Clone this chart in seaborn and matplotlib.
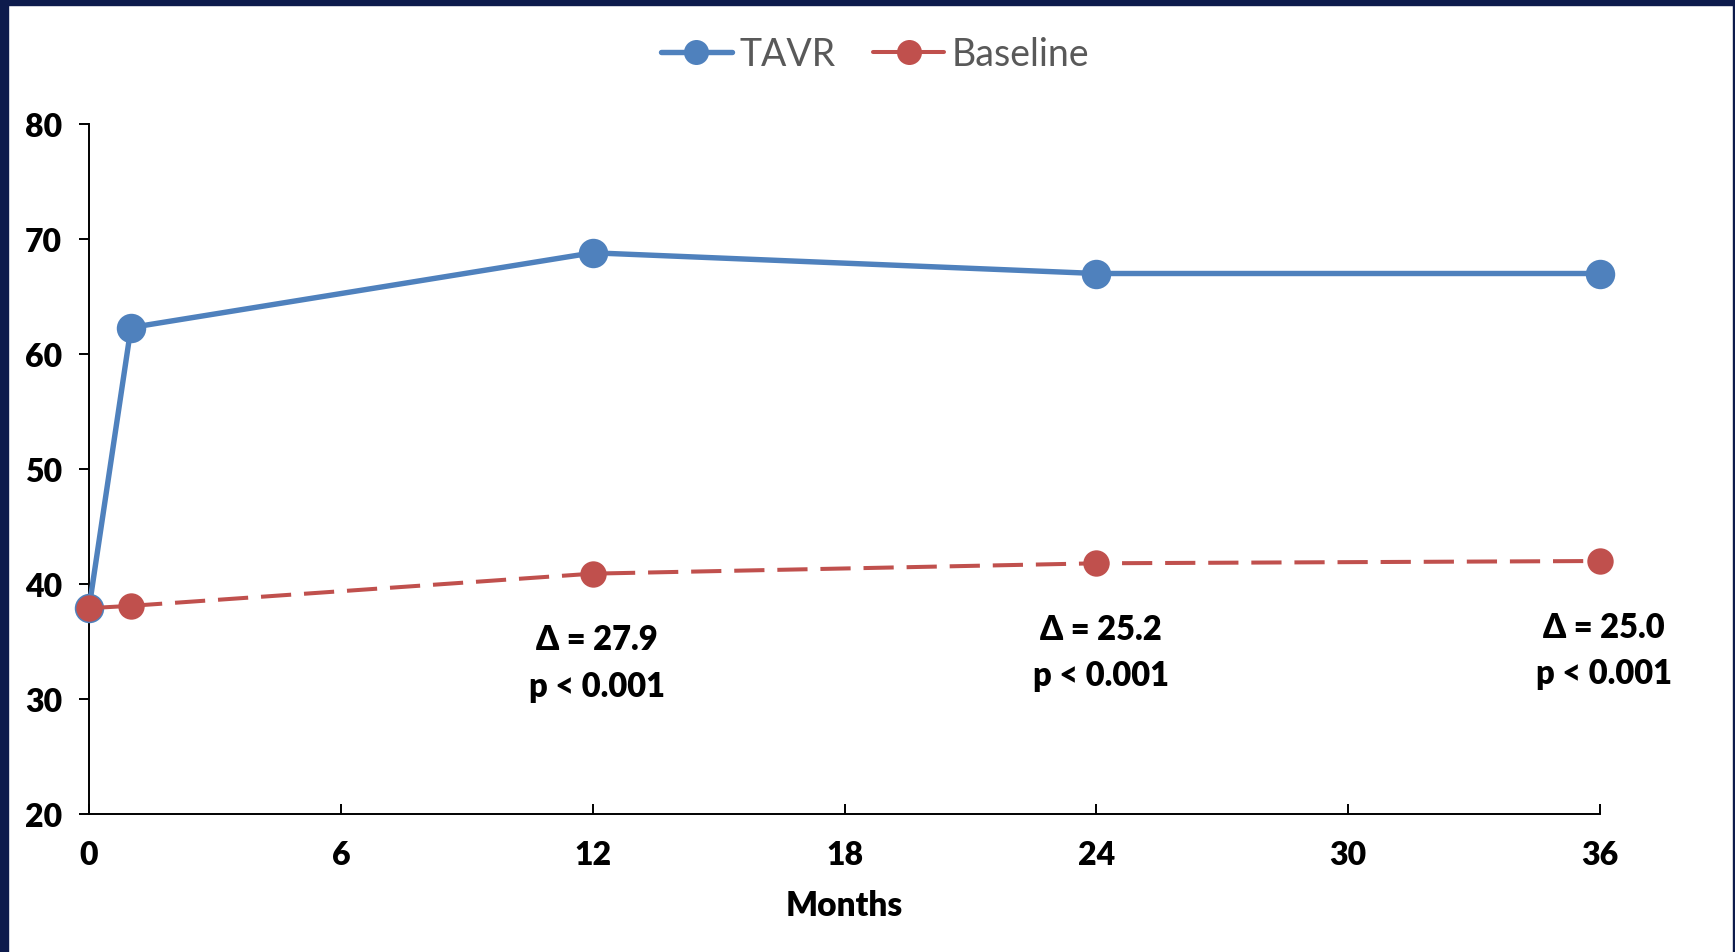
import matplotlib
matplotlib.use("Agg")
import matplotlib.pyplot as plt
from matplotlib.patches import Rectangle
from matplotlib.lines import Line2D
import seaborn as sns
import pandas as pd

# Follow-up time points (months) and mean scores per group
months = [0, 1, 12, 24, 36]
tavr = [37.9, 62.3, 68.8, 67.0, 67.0]
baseline = [37.9, 38.1, 40.9, 41.8, 42.0]
annotated_months = [12, 24, 36]
p_label = "p < 0.001"

x_ticks = [0, 6, 12, 18, 24, 30, 36]
y_ticks = [20, 30, 40, 50, 60, 70, 80]
x_label = "Months"
series_names = ["TAVR", "Baseline"]

blue = "#4F81BD"
red = "#C0504D"
navy = "#0D1B4C"
label_weight = "heavy"

sns.set_theme(style="white")
plt.rcParams["font.family"] = ["Lato", "DejaVu Sans"]

df = pd.DataFrame({"month": months, "tavr": tavr, "baseline": baseline})

fig = plt.figure(figsize=(17.35, 9.53), dpi=100)
fig.patch.set_facecolor("white")

# Dark frame along the top, left and right edges
W, H = 1735, 953
fig.patches.append(Rectangle((0, 1 - 6 / H), 1, 6 / H, transform=fig.transFigure,
                             color=navy, zorder=0))
fig.patches.append(Rectangle((0, 0), 8 / W, 1, transform=fig.transFigure,
                             color=navy, zorder=0))
fig.patches.append(Rectangle((1 - 2 / W, 0), 2 / W, 1, transform=fig.transFigure,
                             color=navy, zorder=0))

ax = fig.add_axes([89 / W, 1 - 815 / H, (1600 - 89) / W, (815 - 125) / H])

sns.lineplot(data=df, x="month", y="tavr", ax=ax, color=blue, linewidth=3.9,
             marker="o", markersize=20, markeredgecolor=blue, markeredgewidth=1.2,
             clip_on=False, zorder=3)
sns.lineplot(data=df, x="month", y="baseline", ax=ax, color=red, linewidth=2.9,
             linestyle=(0, (7.5, 3.2)), marker="o", markersize=19,
             markeredgecolor=red, markeredgewidth=0, clip_on=False, zorder=4)

ax.set_xlim(0, 36)
ax.set_ylim(20, 80)
ax.set_xticks(x_ticks)
ax.set_yticks(y_ticks)
ax.set_xticklabels([str(t) for t in x_ticks])
ax.set_yticklabels([str(t) for t in y_ticks])

for side in ["top", "right"]:
    ax.spines[side].set_visible(False)
for side in ["left", "bottom"]:
    ax.spines[side].set_color("black")
    ax.spines[side].set_linewidth(1.4)

ax.tick_params(axis="y", direction="out", length=7.5, width=1.4, colors="black",
               pad=12, labelsize=23, left=True)
ax.tick_params(axis="x", direction="in", length=7.5, width=1.4, colors="black",
               pad=19, labelsize=23, bottom=True)
for lab in ax.get_xticklabels() + ax.get_yticklabels():
    lab.set_fontweight(label_weight)

ax.set_xlabel(x_label, fontsize=24, fontweight=label_weight, color="black",
              labelpad=14)
ax.set_ylabel("")

# Difference between groups at each follow-up visit
for m in annotated_months:
    i = months.index(m)
    delta = tavr[i] - baseline[i]
    ax.annotate(f"Δ = {delta:.1f}\n{p_label}", xy=(m, baseline[i]),
                xytext=(3, -64), textcoords="offset points", ha="center",
                va="center", fontsize=23.5, fontweight=label_weight, color="black",
                linespacing=1.55, annotation_clip=False)

handles = [
    Line2D([0], [0], color=blue, linewidth=3.9, marker="o", markersize=18,
           markeredgewidth=0),
    Line2D([0], [0], color=red, linewidth=2.9, marker="o", markersize=18,
           markeredgewidth=0),
]
leg = fig.legend(handles, series_names, loc="center",
                 bbox_to_anchor=(875 / W, 1 - 55 / H), ncol=2, frameon=False,
                 fontsize=27, handlelength=1.9, handletextpad=0.2,
                 columnspacing=1.0)
for t in leg.get_texts():
    t.set_color("#595959")

fig.savefig("out.png", dpi=100, facecolor=fig.get_facecolor())
